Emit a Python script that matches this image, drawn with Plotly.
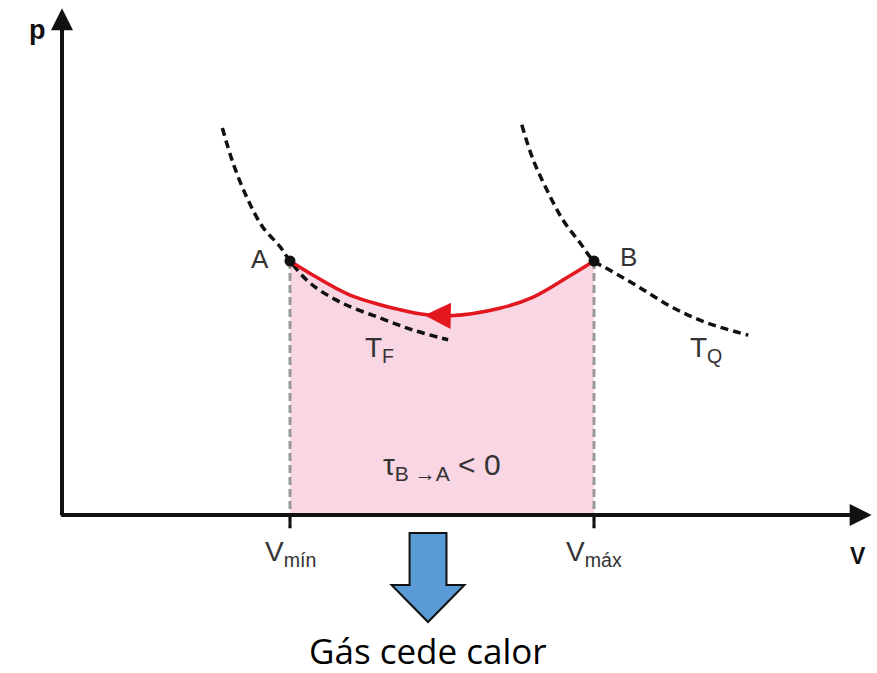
import plotly.graph_objects as go

# ---------------- data ----------------
V_TF = [2.11, 2.25, 2.43, 2.64, 2.87, 3.00, 3.26, 3.66, 4.18, 4.62, 5.08]
P_TF = [7.62, 6.93, 6.26, 5.67, 5.28, 5.00, 4.57, 4.19, 3.88, 3.64, 3.45]
V_TQ = [6.05, 6.20, 6.38, 6.59, 6.82, 7.00, 7.21, 7.61, 8.04, 8.49, 9.03]
P_TQ = [7.68, 6.99, 6.40, 5.81, 5.35, 5.00, 4.82, 4.47, 4.08, 3.78, 3.54]
V_BA = [3.00, 3.26, 3.79, 4.45, 4.80, 5.11, 5.76, 6.20, 6.64, 7.00]
P_BA = [5.00, 4.76, 4.33, 4.04, 3.94, 3.92, 4.07, 4.29, 4.67, 5.00]
V_POINTS = [3.0, 7.0]
P_POINTS = [5.0, 5.0]
POINT_NAMES = ["A", "B"]
V_TICKS = [3.0, 7.0]
V_TICK_LABELS = ["V<sub>mín</sub>", "V<sub>máx</sub>"]
ISO_LABELS = ["T<sub>F</sub>", "T<sub>Q</sub>"]
WORK_LABEL = "τ<sub>B →A</sub> &lt; 0"
HEAT_LABEL = "Gás cede calor"

# ---------------- geometry ----------------
W, H = 877, 673
ORIGIN_X, ORIGIN_Y = 62, 515
PX_PER_V, PX_PER_P = 76.0, 50.8
XR = [-ORIGIN_X / PX_PER_V, (W - ORIGIN_X) / PX_PER_V]
YR = [-(H - ORIGIN_Y) / PX_PER_P, ORIGIN_Y / PX_PER_P]

TXT = "#333333"
RED = "#e2171f"
PINK = "#f8d6e4"

fig = go.Figure()

# shaded work area
fig.add_trace(go.Scatter(x=V_BA, y=P_BA, mode="lines", fill="tozeroy",
                         fillcolor=PINK, line=dict(width=0, shape="spline"),
                         hoverinfo="skip", showlegend=False))

# isotherms
for vx, py in ((V_TF, P_TF), (V_TQ, P_TQ)):
    fig.add_trace(go.Scatter(x=vx, y=py, mode="lines",
                             line=dict(color="#111111", width=3.5, dash="8px,5px", shape="spline"),
                             hoverinfo="skip", showlegend=False))

# gray dashed verticals + ticks
for i, v in enumerate(V_TICKS):
    fig.add_trace(go.Scatter(x=[v, v], y=[P_POINTS[i], -0.26], mode="lines",
                             line=dict(color="#999999", width=3, dash="8px,4px"),
                             hoverinfo="skip", showlegend=False))
    fig.add_trace(go.Scatter(x=[v, v], y=[0, -0.26], mode="lines",
                             line=dict(color="#111111", width=3),
                             hoverinfo="skip", showlegend=False))

# red process curve
fig.add_trace(go.Scatter(x=V_BA, y=P_BA, mode="lines",
                         line=dict(color=RED, width=3.5, shape="spline"),
                         hoverinfo="skip", showlegend=False))

# state points
fig.add_trace(go.Scatter(x=V_POINTS, y=P_POINTS, mode="markers",
                         marker=dict(color="#111111", size=11),
                         hoverinfo="skip", showlegend=False))

ann = []
# axes with arrows
ann.append(dict(x=XR[1] - 0.07, y=0, ax=-0.03, ay=0, axref="x", ayref="y",
                xref="x", yref="y", text="", showarrow=True, arrowhead=2,
                arrowsize=1.1, arrowwidth=4, arrowcolor="#111111", standoff=0))
ann.append(dict(x=0, y=YR[1] - 0.16, ax=0, ay=-0.04, axref="x", ayref="y",
                xref="x", yref="y", text="", showarrow=True, arrowhead=2,
                arrowsize=1.1, arrowwidth=4, arrowcolor="#111111", standoff=0))
# red arrowhead
ann.append(dict(x=V_BA[4] - 0.03, y=P_BA[4] - 0.01, ax=V_BA[5], ay=P_BA[5],
                axref="x", ayref="y", xref="x", yref="y", text="",
                showarrow=True, arrowhead=2, arrowsize=1.5, arrowwidth=3.5,
                arrowcolor=RED, standoff=0))

def label(x, y, text, size, color=TXT, family="Liberation Sans, Arial, sans-serif"):
    ann.append(dict(x=x, y=y, xref="x", yref="y", text=text, showarrow=False,
                    xanchor="center", yanchor="middle",
                    font=dict(size=size, color=color, family=family)))

label(-0.32, 9.55, "<b>p</b>", 27, "#111111")
label(10.47, -0.80, "<b>V</b>", 23, "#111111")
label(2.61, 5.03, POINT_NAMES[0], 26)
label(7.45, 5.08, POINT_NAMES[1], 26)
label(4.18, 3.25, ISO_LABELS[0], 28)
label(8.47, 3.25, ISO_LABELS[1], 28)
label(V_TICKS[0], -0.76, V_TICK_LABELS[0], 28)
label(V_TICKS[1], -0.76, V_TICK_LABELS[1], 28)
label(5.00, 0.95, WORK_LABEL, 30)
label(4.816, -2.66, HEAT_LABEL, 35, "#000000", "Open Sans, Lato, sans-serif")

# blue block arrow ("heat leaves gas")
CX, TOP, NECK, TIP = 4.816, -0.354, -1.378, -2.106
SHAFT_HW, HEAD_HW = 0.243, 0.48
path = (f"M {CX-SHAFT_HW},{TOP} L {CX+SHAFT_HW},{TOP} L {CX+SHAFT_HW},{NECK} "
        f"L {CX+HEAD_HW},{NECK} L {CX},{TIP} L {CX-HEAD_HW},{NECK} "
        f"L {CX-SHAFT_HW},{NECK} Z")
shapes = [dict(type="path", path=path, xref="x", yref="y",
               fillcolor="#5b9bd5", line=dict(color="#111111", width=2))]

fig.update_layout(
    width=W, height=H, autosize=False,
    margin=dict(l=0, r=0, t=0, b=0, pad=0),
    paper_bgcolor="white", plot_bgcolor="white",
    xaxis=dict(range=XR, visible=False, fixedrange=True),
    yaxis=dict(range=YR, visible=False, fixedrange=True),
    annotations=ann, shapes=shapes, showlegend=False,
)

fig.write_html("out.html", config={"displayModeBar": False},
               post_script="document.body.style.margin='0';document.body.style.overflow='hidden';")
